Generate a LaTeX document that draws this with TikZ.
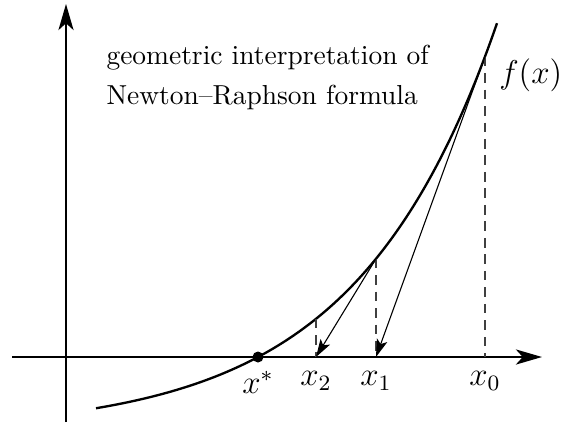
\documentclass[tikz,border=0pt]{standalone}
\usetikzlibrary{arrows.meta}
\begin{document}
\begin{tikzpicture}[x=0.364pt,y=-0.364pt,
  axis/.style={line width=0.75pt,-{Stealth[length=9.5pt,width=5.5pt,inset=2.5pt]}},
  curve/.style={line width=0.85pt},
  tangent/.style={line width=0.4pt,-{Stealth[length=6.5pt,width=4pt,inset=1.5pt]}},
  guide/.style={line width=0.4pt,dash pattern=on 3.5pt off 2.5pt,black!75},
  lbl/.style={inner sep=1pt,font=\large}]
\useasboundingbox (0,0) rectangle (561,424);
% axes
\coordinate (xs) at (12,357);
\coordinate (xe) at (542,357);
\coordinate (ys) at (66,422);
\coordinate (ye) at (66,4);
\draw[axis] (xs) -- (xe);
\draw[axis] (ys) -- (ye);
% curve
\draw[curve] plot[domain=96:497,samples=80,smooth] (\x,{357-75*(exp(0.0071*(\x-258))-1)});
% points
\coordinate (p0) at (485,{357-75*(exp(0.0071*(485-258))-1)});
\coordinate (p1) at (376,{357-75*(exp(0.0071*(376-258))-1)});
\coordinate (p2) at (316,{357-75*(exp(0.0071*(316-258))-1)});
\coordinate (a0) at (485,357);
\coordinate (a1) at (376,357);
\coordinate (a2) at (316,357);
\coordinate (root) at (258,357);
\draw[guide] (p0) -- (a0);
\draw[guide] (p1) -- (a1);
\draw[guide] (p2) -- (a2);
\draw[tangent] (p0) -- (a1);
\draw[tangent] (p1) -- (a2);
\fill (root) circle (2pt);
% labels
\node[lbl,anchor=north] (lroot) at ([yshift=-4pt]root) {$x^*$};
\node[lbl,anchor=north] (l2) at ([yshift=-4pt]a2) {$x_2$};
\node[lbl,anchor=north] (l1) at ([yshift=-4pt]a1) {$x_1$};
\node[lbl,anchor=north] (l0) at ([yshift=-4pt]a0) {$x_0$};
\node[lbl,anchor=west] (lf) at (496,75) {$f(x)$};
\node[anchor=north west,align=left,inner sep=0pt,font={\fontsize{10}{14.5}\selectfont}] (title) at (106,45)
  {geometric interpretation of\\Newton--Raphson formula};
\end{tikzpicture}
\end{document}
